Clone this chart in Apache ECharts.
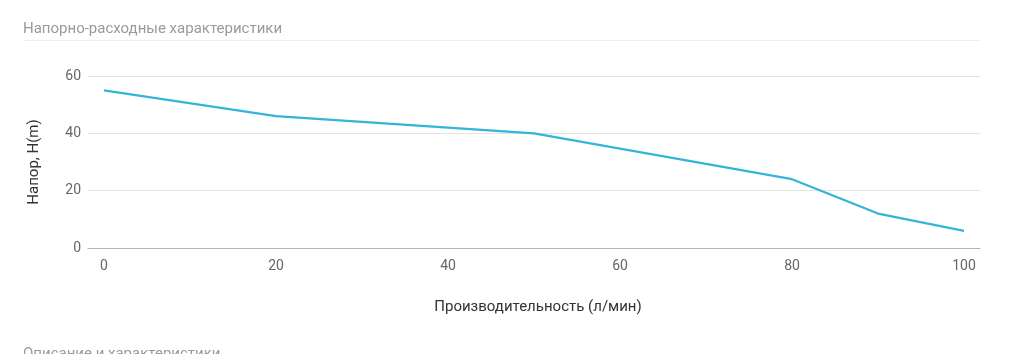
<!DOCTYPE html>
<html>
<head>
<meta charset="utf-8">
<script src="https://cdn.jsdelivr.net/npm/echarts@6/dist/echarts.min.js"></script>
<style>
  html, body { margin: 0; padding: 0; background: #fff; }
  #main { width: 1028px; height: 354px; }
</style>
</head>
<body>
<div id="main"></div>
<script>
// расход (л/мин) и напор (м)
var flow = [0, 20, 50, 80, 90, 100]
var head = [55, 46, 40, 24, 12, 6]
var xTicks = [0, 20, 40, 60, 80, 100]

var points = flow.map(function (f, i) { return [f, head[i]] })

var myChart = echarts.init(document.getElementById('main'))
myChart.setOption({
  animation: false,
  textStyle: { fontFamily: 'Roboto, "Noto Sans", sans-serif' },
  title: [
    {
      text: 'Напорно-расходные характеристики',
      left: 23, top: 22, padding: 0,
      textStyle: { fontSize: 15, fontWeight: 'normal', color: '#9a9a9a' }
    },
    {
      text: 'Описание и характеристики',
      left: 23, top: 347, padding: 0,
      textStyle: { fontSize: 15, fontWeight: 'normal', color: '#9a9a9a' }
    }
  ],
  graphic: [
    {
      type: 'line',
      shape: { x1: 23, y1: 40.5, x2: 980, y2: 40.5 },
      style: { stroke: '#efefef', lineWidth: 1 }
    }
  ],
  grid: { left: 88, right: 48, top: 76, bottom: 106, containLabel: false },
  xAxis: {
    type: 'value',
    min: -1.86,
    max: 101.86,
    name: 'Производительность (л/мин)',
    nameLocation: 'middle',
    nameGap: 52,
    nameTextStyle: { fontSize: 15, color: '#333', padding: [0, 0, 0, 8] },
    axisLine: { show: true, lineStyle: { color: '#b5b5b5', width: 1 } },
    axisTick: { show: false },
    splitLine: { show: false },
    axisLabel: {
      customValues: xTicks,
      fontSize: 14,
      color: '#666',
      margin: 11
    }
  },
  yAxis: {
    type: 'value',
    min: 0,
    max: 60,
    interval: 20,
    name: 'Напор, H(m)',
    nameLocation: 'middle',
    nameGap: 46,
    nameTextStyle: { fontSize: 15, color: '#333' },
    axisLine: { show: false },
    axisTick: { show: false },
    splitLine: { lineStyle: { color: '#e3e3e3' } },
    axisLabel: { fontSize: 14, color: '#666', margin: 7 }
  },
  series: [
    {
      type: 'line',
      data: points,
      symbol: 'none',
      lineStyle: { color: '#33b5d8', width: 2.2 },
      itemStyle: { color: '#33b5d8' }
    }
  ]
})
</script>
</body>
</html>
